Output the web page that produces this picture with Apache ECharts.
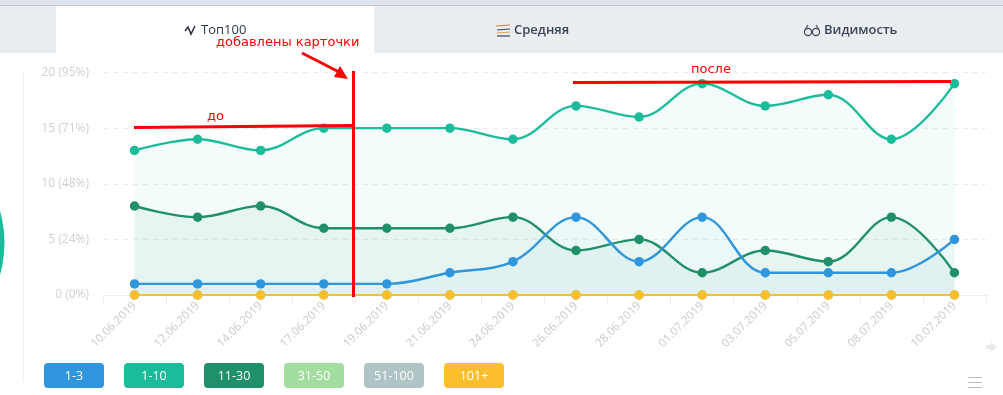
<!DOCTYPE html>
<html><head><meta charset="utf-8">
<style>html,body{margin:0;padding:0;background:#fff}#c{width:1003px;height:395px}</style>
<script src="https://cdn.jsdelivr.net/npm/echarts@6/dist/echarts.min.js"></script>
</head><body><div id="c"></div>
<script>
const categories=['10.06.2019','12.06.2019','14.06.2019','17.06.2019','19.06.2019','21.06.2019','24.06.2019','26.06.2019','28.06.2019','01.07.2019','03.07.2019','05.07.2019','08.07.2019','10.07.2019'];
const yTickLabels={0:'0 (0%)',5:'5 (24%)',10:'10 (48%)',15:'15 (71%)',20:'20 (95%)'};
const s1to10=[13,14,13,15,15,15,14,17,16,19,17,18,14,19];
const s11to30=[8,7,8,6,6,6,7,4,5,2,4,3,7,2];
const s1to3=[1,1,1,1,1,2,3,7,3,7,2,2,2,5];
const s31to50=[0,0,0,0,0,0,0,0,0,0,0,0,0,0];
const s51to100=[0,0,0,0,0,0,0,0,0,0,0,0,0,0];
const s101=[0,0,0,0,0,0,0,0,0,0,0,0,0,0];
const legendNames=['1-3','1-10','11-30','31-50','51-100','101+'];
const legendColors=['#2f96dd','#1abc9c','#1f9068','#a3dea0','#afc5c5','#fbbf2d'];
const tabNames=['Топ100','Средняя','Видимость'];
const font='"Open Sans",sans-serif';
const red='#ff0000';
function ser(name,data,color,lw,fillOp){return{name,type:'line',data,smooth:0.38,symbol:'circle',symbolSize:9.5,
 lineStyle:{color,width:lw},itemStyle:{color,opacity:1},areaStyle:{color,opacity:fillOp},emphasis:{disabled:true}}}
const series=[
 ser('1-10',s1to10,legendColors[1],2.4,0.05),
 ser('11-30',s11to30,legendColors[2],2.4,0.06),
 ser('1-3',s1to3,legendColors[0],2.4,0.04),
 ser('31-50',s31to50,legendColors[3],2,0),
 ser('51-100',s51to100,legendColors[4],2,0),
 ser('101+',s101,legendColors[5],2,0)
];
function rect(x,y,w,h,fill,r){return{type:'rect',shape:{x,y,width:w,height:h,r:r||0},style:{fill},silent:true}}
function line(pts,stroke,lw){return{type:'polyline',shape:{points:pts},style:{stroke,lineWidth:lw,fill:null},silent:true}}
function txt(x,y,text,fill,size,align,weight,fam){return{type:'text',x,y,silent:true,style:{text,fill,font:(weight||'normal')+' '+size+'px '+(fam||font),align:align||'left',verticalAlign:'middle',textAlign:align||'left',textVerticalAlign:'middle'}}}
const g=[
 rect(0,0,1003,5,'#dfe5ec'),rect(0,5,1003,1,'#c2c6ca'),rect(0,6,1003,47,'#ebeef0'),rect(56,6,318,47,'#ffffff'),
 rect(23,72,1,310,'#eeeeee'),
 {type:'circle',shape:{cx:-111.5,cy:243,r:116},style:{fill:'#1abc9c'},silent:true},
 txt(201,30,tabNames[0],'#2d3849',13,'left','500'),
 txt(514,30,tabNames[1],'#3a4556',13,'left','600'),
 txt(824,30,tabNames[2],'#3a4556',13,'left','600'),
 line([[185,31],[188,27],[191,34],[195,26]],'#2d3849',1.6),
 line([[496,26],[510,25]],'#c97b4a',1.2),line([[497,30],[510,29]],'#3a4556',1.2),line([[497,33],[510,32]],'#e0a04a',1.2),line([[497,36],[510,36]],'#3a4556',1.2),
 {type:'circle',shape:{cx:808,cy:32,r:3.6},style:{fill:null,stroke:'#3a4556',lineWidth:1.2},silent:true},
 {type:'circle',shape:{cx:816,cy:32,r:3.6},style:{fill:null,stroke:'#3a4556',lineWidth:1.2},silent:true},
 line([[805,30],[808,25]],'#3a4556',1.1),line([[819,30],[816,25]],'#3a4556',1.1),
 // hand-drawn annotations
 line([[353.5,71],[353.5,297]],red,3),
 line([[134,127.5],[353,125.5]],red,3),
 line([[573,82.5],[951,81.5]],red,3),
 line([[302,53],[343,74]],red,3),
 {type:'polygon',shape:{points:[[348,79],[334,77],[340,66]]},style:{fill:red},silent:true},
 txt(216,43,'добавлены карточки',red,13,'left','normal','"DejaVu Sans"'),
 txt(207,117,'до',red,13,'left','normal','"DejaVu Sans"'),
 txt(691,70,'после',red,13,'left','normal','"DejaVu Sans"'),
 // right icons
 rect(986,345,6,4,'#e6eaea'),{type:'polygon',shape:{points:[[991,342],[997,347],[991,352]]},style:{fill:'#e6eaea'},silent:true},
 line([[968,377.5],[982,377.5]],'#bbbbbb',1),line([[968,382.5],[982,382.5]],'#bbbbbb',1),line([[968,387.5],[982,387.5]],'#bbbbbb',1)
];
legendNames.forEach((n,i)=>{const x=44+80*i;g.push(rect(x,363,60,25,legendColors[i],4));g.push(txt(x+30,376,n,'#ffffff',12.5,'center'))});
const chart=echarts.init(document.getElementById('c'),null,{renderer:'canvas'});
chart.setOption({animation:false,
 grid:{left:103,right:17,top:72.5,height:222.5,containLabel:false},
 xAxis:{type:'category',data:categories,boundaryGap:true,
  axisLine:{lineStyle:{color:'#eeeeee',width:1}},axisTick:{show:true,length:10,alignWithLabel:false,lineStyle:{color:'#eeeeee'}},
  axisLabel:{interval:0,rotate:45,color:'#cdc8c8',fontSize:11.5,fontFamily:font,margin:9},splitLine:{show:false}},
 yAxis:{type:'value',min:0,max:20,interval:5,axisLine:{show:false},axisTick:{show:false},
  axisLabel:{color:'#cdd0d6',fontSize:12,fontFamily:font,margin:14,padding:[4,0,0,0],formatter:v=>yTickLabels[v]},
  splitLine:{lineStyle:{color:'#eeeeee',type:[5,5],width:1}}},
 series,
 graphic:g.map(e=>Object.assign({z:e.type==='rect'&&e.shape.y<60?-1:100},e))
});
</script></body></html>
